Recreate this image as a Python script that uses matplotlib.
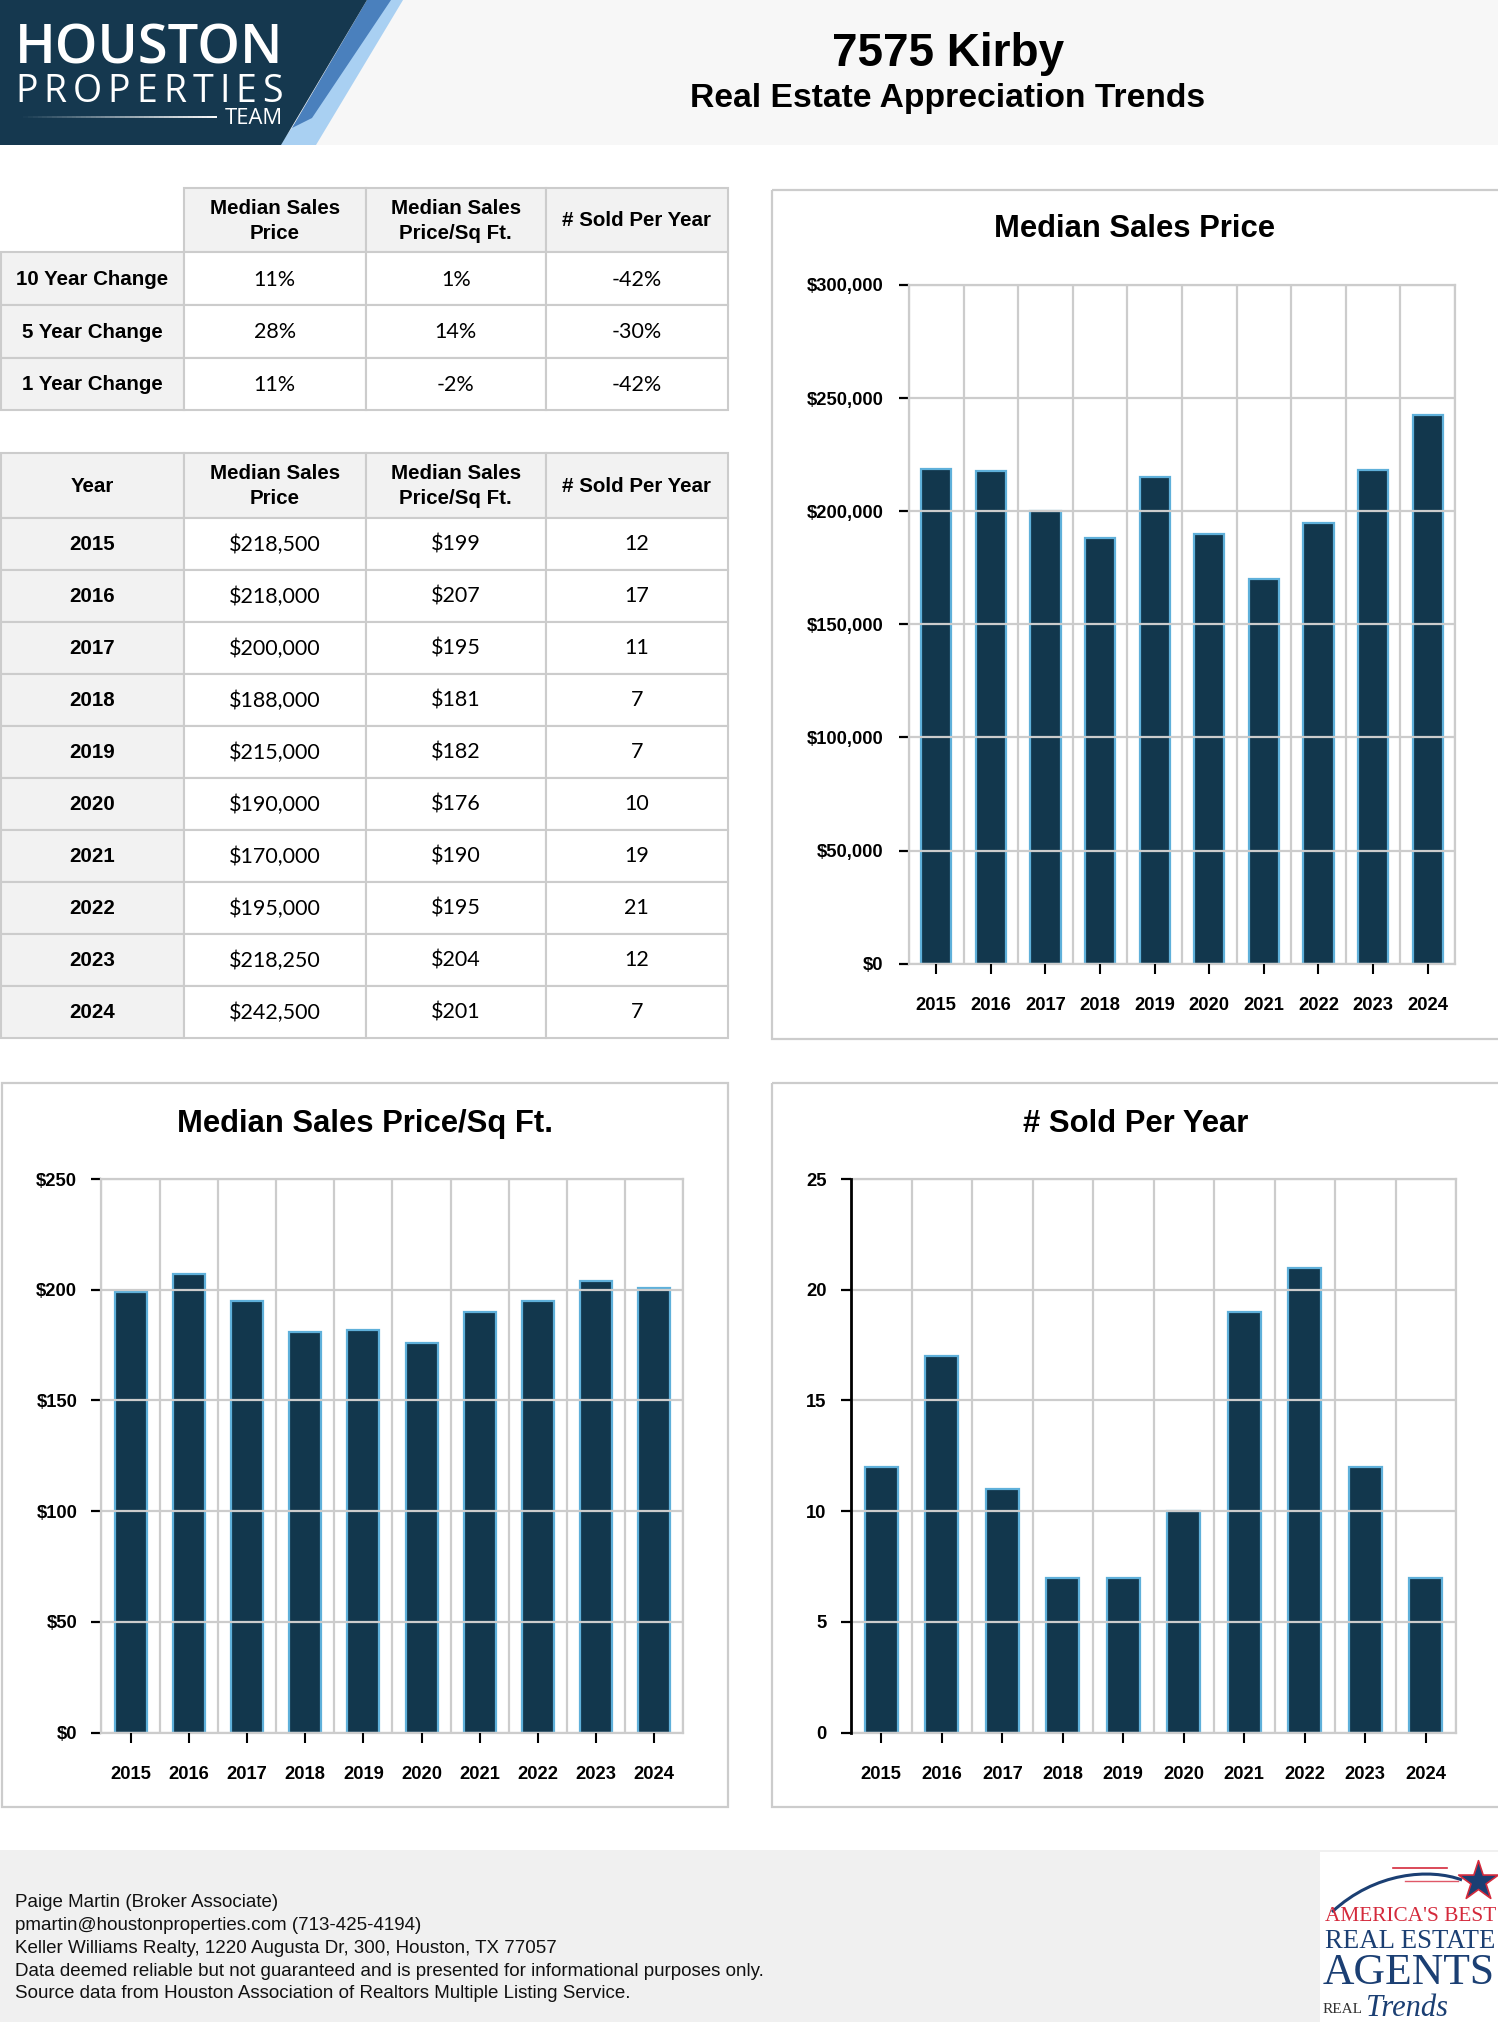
import matplotlib
matplotlib.use('Agg')
import matplotlib.pyplot as plt
from matplotlib.patches import Rectangle, Polygon
from matplotlib.path import Path
from matplotlib.patches import PathPatch
import numpy as np

plt.rcParams['font.family'] = ['Liberation Sans', 'DejaVu Sans']

# ---------------- data ----------------
years = ['2015', '2016', '2017', '2018', '2019', '2020', '2021', '2022', '2023', '2024']
median_price = [218500, 218000, 200000, 188000, 215000, 190000, 170000, 195000, 218250, 242500]
price_sqft = [199, 207, 195, 181, 182, 176, 190, 195, 204, 201]
sold_per_year = [12, 17, 11, 7, 7, 10, 19, 21, 12, 7]

change_labels = ['10 Year Change', '5 Year Change', '1 Year Change']
change_price = ['11%', '28%', '11%']
change_sqft = ['1%', '14%', '-2%']
change_sold = ['-42%', '-30%', '-42%']

col_headers = ['Median Sales\nPrice', 'Median Sales\nPrice/Sq Ft.', '# Sold Per Year']

title = '7575 Kirby'
subtitle = 'Real Estate Appreciation Trends'
footer_lines = [
    'Paige Martin (Broker Associate)',
    'pmartin@houstonproperties.com (713-425-4194)',
    'Keller Williams Realty, 1220 Augusta Dr, 300, Houston, TX 77057',
    'Data deemed reliable but not guaranteed and is presented for informational purposes only.',
    'Source data from Houston Association of Realtors Multiple Listing Service.',
]

# ---------------- styles ----------------
NAVY = '#12374d'
EDGE = '#5fb0da'
GRID = '#cccccc'
CELL = '#f2f2f2'

W, H = 1498, 2022
fig = plt.figure(figsize=(W / 100, H / 100), dpi=100)
fig.patch.set_facecolor('white')
bg = fig.add_axes([0, 0, 1, 1], zorder=0)
bg.set_xlim(0, W)
bg.set_ylim(H, 0)
bg.axis('off')
R = fig.canvas.get_renderer()


def fit(t, target_w):
    bb = t.get_window_extent(renderer=R)
    t.set_fontsize(t.get_fontsize() * target_w / bb.width)
    return t


# ---------------- header ----------------
bg.add_patch(Rectangle((0, 0), W, 145, fc='#f7f7f7', ec='none'))
bg.add_patch(Polygon([(380, 0), (403, 0), (316, 145), (280, 145)], fc='#a9d0f2', ec='none'))
bg.add_patch(Polygon([(367, 0), (391, 0), (312, 118), (292, 128)], fc='#4a80bd', ec='none'))
bg.add_patch(Polygon([(0, 0), (367, 0), (281, 145), (0, 145)], fc='#15384f', ec='none'))

t = bg.text(15, 63, 'HOUSTON', color='white', fontfamily=['Open Sans', 'DejaVu Sans'],
            fontweight='semibold', fontsize=40, ha='left', va='baseline')
fit(t, 268)

# letter-spaced PROPERTIES
letters = list('PROPERTIES')
ltexts = [bg.text(0, 102, c, color='white', fontfamily=['Open Sans', 'DejaVu Sans'],
                  fontweight='medium', fontsize=27, ha='left', va='baseline') for c in letters]
widths = [lt.get_window_extent(renderer=R).width for lt in ltexts]
gap = (268 - sum(widths)) / (len(letters) - 1)
x = 15
for lt, w in zip(ltexts, widths):
    lt.set_x(x)
    x += w + gap

t = bg.text(283, 124, 'TEAM', color='white', fontfamily=['Open Sans', 'DejaVu Sans'],
            fontsize=17, ha='right', va='baseline')
fit(t, 58)
xs = np.linspace(23, 217, 41)
for i in range(40):
    bg.plot(xs[i:i + 2], [117, 117], color='white', lw=1.4, alpha=(i + 1) / 40, solid_capstyle='butt')

bg.text(948, 66, title, fontsize=33, fontweight='bold', ha='center', va='baseline')
bg.text(948, 107, subtitle, fontsize=24.2, fontweight='bold', ha='center', va='baseline')

# ---------------- tables ----------------
col_x = [1, 184, 365.5, 546, 727.6]


def cell(x0, x1, y0, y1, fc):
    bg.add_patch(Rectangle((x0, y0), x1 - x0, y1 - y0, fc=fc, ec=GRID, lw=1.5))


def ctext(x0, x1, y0, y1, s, bold=False, font=None, size=14.8):
    kw = dict(ha='center', va='center', fontsize=size, linespacing=1.4)
    if bold:
        kw['fontweight'] = 'bold'
    if font:
        kw['fontfamily'] = font
    bg.text((x0 + x1) / 2, (y0 + y1) / 2 + 1, s, **kw)


LATO = ['Lato', 'DejaVu Sans']

# table 1
t1_y = [187.5, 252, 305, 357.5, 410]
for j in range(3):
    cell(col_x[j + 1], col_x[j + 2], t1_y[0], t1_y[1], CELL)
    ctext(col_x[j + 1], col_x[j + 2], t1_y[0], t1_y[1], col_headers[j], bold=True)
rows1 = list(zip(change_labels, change_price, change_sqft, change_sold))
for i, row in enumerate(rows1):
    y0, y1 = t1_y[i + 1], t1_y[i + 2]
    for j, v in enumerate(row):
        cell(col_x[j], col_x[j + 1], y0, y1, CELL if j == 0 else 'white')
        if j == 0:
            ctext(col_x[j], col_x[j + 1], y0, y1, v, bold=True)
        else:
            ctext(col_x[j], col_x[j + 1], y0, y1, v, font=LATO, size=15.5)

# table 2
t2_y = [452.5, 517.5] + [517.5 + 52 * (k + 1) for k in range(10)]
hdr2 = ['Year'] + col_headers
for j in range(4):
    cell(col_x[j], col_x[j + 1], t2_y[0], t2_y[1], CELL)
    ctext(col_x[j], col_x[j + 1], t2_y[0], t2_y[1], hdr2[j], bold=True)
for i in range(len(years)):
    y0, y1 = t2_y[i + 1], t2_y[i + 2]
    row = [years[i], f'${median_price[i]:,}', f'${price_sqft[i]}', str(sold_per_year[i])]
    for j, v in enumerate(row):
        cell(col_x[j], col_x[j + 1], y0, y1, CELL if j == 0 else 'white')
        if j == 0:
            ctext(col_x[j], col_x[j + 1], y0, y1, v, bold=True)
        else:
            ctext(col_x[j], col_x[j + 1], y0, y1, v, font=LATO, size=15.5)

# ---------------- chart panels ----------------
bg.add_patch(Rectangle((772, 189.5), 900, 849, fc='none', ec=GRID, lw=1.6))
bg.add_patch(Rectangle((1.5, 1083.3), 726, 724, fc='none', ec=GRID, lw=1.6))
bg.add_patch(Rectangle((772, 1083.3), 900, 724, fc='none', ec=GRID, lw=1.6))

bg.text(1135, 237, 'Median Sales Price', fontsize=22.3, fontweight='bold', ha='center', va='baseline')
bg.text(365, 1132, 'Median Sales Price/Sq Ft.', fontsize=22.3, fontweight='bold', ha='center', va='baseline')
bg.text(1136, 1132, '# Sold Per Year', fontsize=22.3, fontweight='bold', ha='center', va='baseline')


def bar_chart(px0, px1, py_top, py_bot, values, ymax, step, fmt, left_color, left_lw, ypad):
    ax = fig.add_axes([px0 / W, 1 - py_bot / H, (px1 - px0) / W, (py_bot - py_top) / H], zorder=2)
    ax.set_facecolor('none')
    x = np.arange(len(years))
    ax.bar(x, values, width=0.55, color=NAVY, edgecolor=EDGE, linewidth=1.6, zorder=1)
    ax.set_xlim(-0.5, len(years) - 0.5)
    ax.set_ylim(0, ymax)
    ax.set_axisbelow(False)
    yt = np.arange(0, ymax + step / 2, step)
    ax.set_yticks(yt)
    ax.set_yticklabels([fmt(v) for v in yt], fontweight='bold', fontsize=13.2)
    ax.set_xticks(x)
    ax.set_xticklabels(years, fontweight='bold', fontsize=13.2)
    ax.set_xticks(np.arange(-0.5, len(years), 1), minor=True)
    ax.yaxis.grid(True, color=GRID, lw=1.6)
    ax.xaxis.grid(True, which='minor', color=GRID, lw=1.6)
    ax.xaxis.grid(False, which='major')
    ax.tick_params(axis='x', which='minor', length=0)
    ax.tick_params(axis='x', which='major', length=7, width=1.5, color='black', pad=17)
    ax.tick_params(axis='y', length=7.5, width=1.6, color='black', pad=ypad)
    for s in ['top', 'right', 'bottom']:
        ax.spines[s].set_color(GRID)
        ax.spines[s].set_linewidth(1.6)
    ax.spines['left'].set_color(left_color)
    ax.spines['left'].set_linewidth(left_lw)
    ax.spines['left'].set_zorder(5)
    return ax


bar_chart(909, 1455, 285, 963.7, median_price, 300000, 50000,
          lambda v: f'${int(v):,}', GRID, 1.6, 11)
bar_chart(101.5, 683.4, 1179, 1732.7, price_sqft, 250, 50,
          lambda v: f'${int(v)}', GRID, 1.6, 10)
bar_chart(851, 1456, 1179, 1732.7, sold_per_year, 25, 5,
          lambda v: f'{int(v)}', 'black', 2.0, 10)

# ---------------- footer ----------------
bg.add_patch(Rectangle((0, 1850), W, H - 1850, fc='#f0f0f0', ec='none'))
fts = []
for k, line in enumerate(footer_lines):
    fts.append(bg.text(15, 1907.3 + 22.8 * k, line, fontsize=13, ha='left', va='baseline', color='#111111'))
fit(fts[3], 748)
for ft in fts:
    ft.set_fontsize(fts[3].get_fontsize())

# right-bottom badge
bg.add_patch(Rectangle((1320, 1852), 200, 200, fc='white', ec='none'))
arc = Path([(1332, 1912), (1375, 1872), (1430, 1868), (1462, 1880)],
           [Path.MOVETO, Path.CURVE4, Path.CURVE4, Path.CURVE4])
bg.add_patch(PathPatch(arc, fc='none', ec='#1b3f73', lw=2.2))
bg.plot([1393, 1447], [1868, 1868], color='#d42a3c', lw=1.2)
bg.plot([1405, 1458], [1881, 1881], color='#e05868', lw=1.0)
bg.scatter([1478], [1881], marker='*', s=900, c='#1b3f73', edgecolors='#d42a3c', linewidths=1.2, zorder=5)
serif = ['Liberation Serif', 'DejaVu Serif']
t = bg.text(1325, 1921, "AMERICA'S BEST", color='#d42a3c', fontfamily=serif, fontsize=12, ha='left', va='baseline')
fit(t, 170)
t = bg.text(1325, 1948, 'REAL ESTATE', color='#1b3f73', fontfamily=serif, fontsize=15, ha='left', va='baseline')
fit(t, 170)
t = bg.text(1323, 1984, 'AGENTS', color='#1b3f73', fontfamily=serif, fontsize=28, ha='left', va='baseline')
fit(t, 172)
t = bg.text(1323, 2013, 'REAL', color='#333333', fontfamily=serif, fontsize=10, ha='left', va='baseline')
fit(t, 40)
bg.text(1366, 2016, 'Trends', color='#1b3f73', fontfamily=serif, fontstyle='italic',
        fontsize=22, ha='left', va='baseline')

fig.savefig('out.png', dpi=100, facecolor='white')
